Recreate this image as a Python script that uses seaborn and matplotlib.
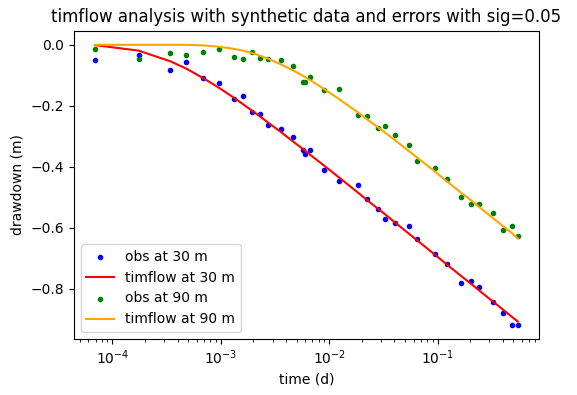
import numpy as np
import pandas as pd
import matplotlib
matplotlib.use("Agg")
import matplotlib.pyplot as plt
import seaborn as sns

# observation times (d), shared by both wells
times = [6.9e-5, 1.74e-4, 3.41e-4, 4.80e-4, 6.92e-4, 9.53e-4, 1.31e-3, 1.59e-3,
         1.94e-3, 2.28e-3, 2.75e-3, 3.61e-3, 4.59e-3, 5.68e-3, 5.93e-3, 6.69e-3,
         8.87e-3, 1.22e-2, 1.83e-2, 2.21e-2, 2.80e-2, 3.25e-2, 4.02e-2, 5.41e-2,
         6.41e-2, 9.40e-2, 0.121, 0.163, 0.202, 0.240, 0.323, 0.399, 0.483, 0.550]

obs_30 = [-0.050, -0.033, -0.083, -0.057, -0.109, -0.126, -0.178, -0.168,
          -0.221, -0.227, -0.263, -0.276, -0.303, -0.345, -0.358, -0.345,
          -0.411, -0.447, -0.460, -0.506, -0.539, -0.571, -0.585, -0.594,
          -0.637, -0.686, -0.719, -0.781, -0.775, -0.794, -0.844, -0.880,
          -0.919, -0.919]

model_30 = [-0.001, -0.019, -0.054, -0.078, -0.110, -0.140, -0.173, -0.194,
            -0.216, -0.234, -0.256, -0.287, -0.316, -0.341, -0.346, -0.361,
            -0.395, -0.434, -0.484, -0.508, -0.537, -0.555, -0.582, -0.619,
            -0.640, -0.688, -0.720, -0.757, -0.783, -0.805, -0.842, -0.868,
            -0.892, -0.908]

obs_90 = [-0.014, -0.047, -0.027, -0.034, -0.024, -0.014, -0.040, -0.047,
          -0.024, -0.044, -0.047, -0.050, -0.069, -0.122, -0.122, -0.106,
          -0.149, -0.145, -0.231, -0.234, -0.273, -0.267, -0.296, -0.329,
          -0.381, -0.403, -0.440, -0.499, -0.522, -0.522, -0.552, -0.608,
          -0.594, -0.627]

model_90 = [0.000, 0.000, 0.000, 0.000, -0.002, -0.006, -0.013, -0.019,
            -0.027, -0.035, -0.046, -0.065, -0.083, -0.101, -0.105, -0.116,
            -0.144, -0.177, -0.221, -0.243, -0.270, -0.287, -0.312, -0.348,
            -0.369, -0.415, -0.447, -0.484, -0.509, -0.531, -0.568, -0.594,
            -0.617, -0.635]

df = pd.DataFrame({"t": times, "obs30": obs_30, "mod30": model_30,
                   "obs90": obs_90, "mod90": model_90})

fig, ax = plt.subplots(figsize=(5.77, 3.95), dpi=100)
fig.subplots_adjust(left=0.128, right=0.934, bottom=0.142, top=0.922)

sns.scatterplot(data=df, x="t", y="obs30", ax=ax, color="b", marker=".", s=36,
                edgecolor="b", linewidth=1, label="obs at 30 m")
sns.lineplot(data=df, x="t", y="mod30", ax=ax, color="r", estimator=None,
             linewidth=1.5, label="timflow at 30 m")
sns.scatterplot(data=df, x="t", y="obs90", ax=ax, color="g", marker=".", s=36,
                edgecolor="g", linewidth=1, label="obs at 90 m")
sns.lineplot(data=df, x="t", y="mod90", ax=ax, color="orange", estimator=None,
             linewidth=1.5, label="timflow at 90 m")

ax.set_xscale("log")
ax.set_title("timflow analysis with synthetic data and errors with sig=0.05")
ax.set_xlabel("time (d)")
ax.set_ylabel("drawdown (m)")
ax.legend(loc="lower left")

fig.savefig("out.png", dpi=100)
